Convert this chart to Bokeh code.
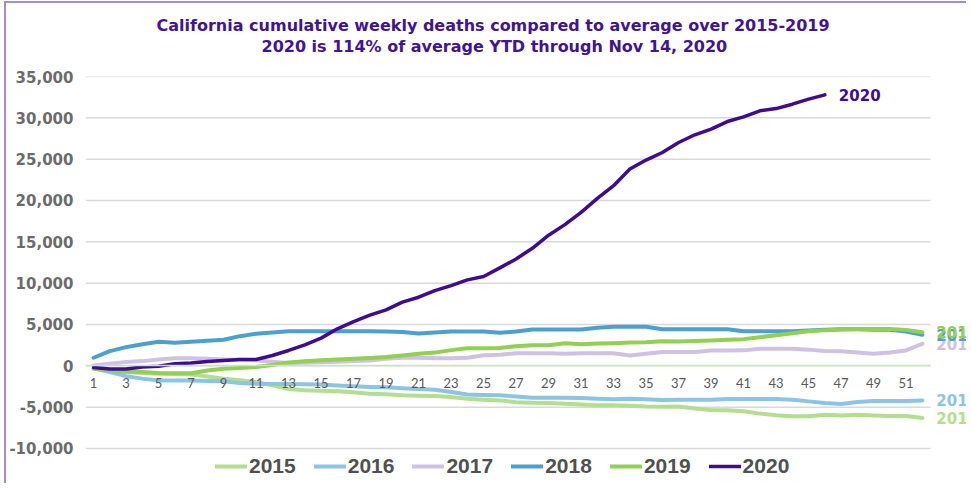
from bokeh.plotting import figure
from bokeh.models import (Range1d, FixedTicker, NumeralTickFormatter, Title, Legend,
                          LegendItem, ColumnDataSource, LabelSet)
from bokeh.core.properties import value
from bokeh.embed import file_html
from bokeh.resources import INLINE

# ---------------- data ----------------
weeks = list(range(1, 53))
weeks_2020 = list(range(1, 47))

d2015 = [-300, -550, -750, -880, -960, -980, -1040, -1300, -1550, -1750, -1970, -2350, -2800,
         -2950, -3000, -3080, -3200, -3380, -3450, -3570, -3630, -3650, -3780, -3970, -4100, -4180,
         -4400, -4480, -4500, -4580, -4680, -4760, -4780, -4820, -4920, -4960, -4920, -5150, -5350,
         -5380, -5500, -5780, -5980, -6100, -6100, -5920, -6000, -5920, -6000, -6070, -6080, -6300]
d2016 = [-300, -760, -1250, -1550, -1760, -1760, -1760, -1820, -1880, -2080, -2170, -2200, -2200,
         -2220, -2250, -2370, -2480, -2560, -2600, -2700, -2800, -2900, -3170, -3480, -3530, -3570,
         -3700, -3850, -3850, -3860, -3890, -3970, -4050, -3970, -4050, -4140, -4100, -4100, -4100,
         -4020, -4010, -4010, -4020, -4100, -4300, -4500, -4620, -4380, -4260, -4250, -4250, -4180]
d2017 = [50, 250, 450, 570, 770, 930, 930, 850, 770, 730, 680, 480, 350,
         380, 420, 480, 570, 650, 850, 970, 970, 930, 930, 970, 1290, 1330,
         1530, 1530, 1530, 1450, 1530, 1530, 1530, 1260, 1450, 1660, 1660, 1680, 1860,
         1860, 1870, 2060, 2060, 2060, 1960, 1800, 1760, 1600, 1450, 1600, 1860, 2670]
d2018 = [980, 1780, 2260, 2620, 2910, 2790, 2910, 3030, 3150, 3590, 3880, 4030, 4190,
         4190, 4190, 4190, 4190, 4190, 4150, 4100, 3910, 4030, 4150, 4150, 4150, 4000,
         4150, 4400, 4400, 4400, 4400, 4600, 4720, 4720, 4720, 4430, 4430, 4430, 4430,
         4430, 4190, 4190, 4190, 4190, 4270, 4350, 4430, 4430, 4350, 4350, 4150, 3750]
d2019 = [-350, -560, -680, -760, -880, -900, -900, -560, -350, -270, -150, 100, 400,
         560, 680, 780, 850, 950, 1080, 1260, 1460, 1600, 1900, 2140, 2140, 2160,
         2380, 2500, 2500, 2740, 2620, 2700, 2740, 2820, 2860, 2980, 2950, 3000, 3070,
         3150, 3230, 3470, 3710, 3950, 4190, 4310, 4390, 4470, 4470, 4470, 4350, 4070]
d2020 = [-200, -380, -380, -150, -50, 250, 330, 530, 650, 770, 770, 1250, 1860,
         2540, 3350, 4480, 5350, 6130, 6770, 7700, 8300, 9100, 9710, 10400, 10800, 11850,
         12930, 14220, 15800, 17080, 18570, 20260, 21790, 23800, 24890, 25810, 27020, 27950, 28630,
         29550, 30120, 30850, 31120, 31650, 32260, 32780]

series_names = ["2015", "2016", "2017", "2018", "2019", "2020"]
series_values = [d2015, d2016, d2017, d2018, d2019, d2020]
series_weeks = [weeks, weeks, weeks, weeks, weeks, weeks_2020]
series_colors = ["#b3de8f", "#8ec4e3", "#cfc1e4", "#4ca0d0", "#92cf52", "#3d0c91"]
series_widths = [4, 4, 4, 4, 4, 3.5]

x_tick_weeks = [1, 3, 5, 7, 9, 11, 13, 15, 17, 19, 21, 23, 25, 27, 29, 31, 33, 35, 37, 39,
                41, 43, 45, 47, 49, 51]
y_ticks = [-10000, -5000, 0, 5000, 10000, 15000, 20000, 25000, 30000, 35000]

title_line1 = "California  cumulative weekly deaths compared to average over 2015-2019"
title_line2 = "2020 is 114% of average YTD through Nov 14, 2020"

# category span of the plot area (weeks 1..52 centred in slots)
X_START, X_END = 0.5, 52.5

# ---------------- figure ----------------
# the frame runs to the right/bottom edges so that end labels and legend are not clipped
p = figure(width=962, height=482, output_backend="svg", toolbar_location=None,
           x_range=Range1d(X_START, 54.84), y_range=Range1d(-14476, 35000),
           min_border_left=78, min_border_right=0, min_border_top=73, min_border_bottom=0,
           styles={"border-left": "2px solid #a58bd3", "border-top": "2px solid #a58bd3",
                   "margin-left": "4px", "margin-top": "1px"})
p.outline_line_color = None
p.background_fill_color = "white"
p.border_fill_color = "white"

TITLE_COLOR = "#3f1593"
# spacer between plot area and the two title lines
p.add_layout(Title(text=" ", text_font="DejaVu Sans", text_font_size="16px", standoff=0), "above")
p.add_layout(Title(text=title_line2, align="left", offset=176, text_font="DejaVu Sans",
                   text_font_size="16px", text_font_style="bold", text_color=TITLE_COLOR,
                   standoff=0), "above")
p.add_layout(Title(text=title_line1, align="left", offset=71, text_font="DejaVu Sans",
                   text_font_size="16px", text_font_style="bold", text_color=TITLE_COLOR,
                   standoff=0), "above")

# horizontal gridlines limited to the category span
p.xgrid.visible = False
p.ygrid.visible = False
p.segment(x0=[X_START] * len(y_ticks), x1=[X_END] * len(y_ticks), y0=y_ticks, y1=y_ticks,
          line_color="#d9d9d9", line_width=1.5)

# y axis
p.yaxis.ticker = FixedTicker(ticks=y_ticks)
p.yaxis.formatter = NumeralTickFormatter(format="0,0")
p.yaxis.axis_line_color = None
p.yaxis.major_tick_line_color = None
p.yaxis.minor_tick_line_color = None
p.yaxis.major_tick_out = 0
p.yaxis.major_tick_in = 0
p.yaxis.minor_tick_out = 0
p.yaxis.minor_tick_in = 0
p.yaxis.major_label_standoff = 12
p.yaxis.major_label_text_font = "DejaVu Sans"
p.yaxis.major_label_text_font_style = "bold"
p.yaxis.major_label_text_font_size = "15px"
p.yaxis.major_label_text_color = "#6b6b6b"

# x axis crossing at zero
p.xaxis.fixed_location = 0
p.xaxis.bounds = (X_START, X_END)
p.xaxis.ticker = FixedTicker(ticks=x_tick_weeks)
p.xaxis.axis_line_color = "#cde4bb"
p.xaxis.axis_line_width = 1.5
p.xaxis.major_tick_line_color = None
p.xaxis.minor_tick_line_color = None
p.xaxis.major_label_standoff = 6
p.xaxis.major_label_text_font = "Lato"
p.xaxis.major_label_text_font_size = "13px"
p.xaxis.major_label_text_color = "#595959"

items = []
for name, xs, ys, c, w in zip(series_names, series_weeks, series_values, series_colors, series_widths):
    r = p.line(xs, ys, line_color=c, line_width=w, line_join="round", line_cap="round")
    items.append(LegendItem(label=name, renderers=[r]))

legend = Legend(items=items, orientation="horizontal", location=(130, 7),
                glyph_width=32, glyph_height=20, label_standoff=2, spacing=18,
                padding=0, margin=0, border_line_color=None, background_fill_alpha=0,
                label_text_font="Liberation Sans", label_text_font_style="bold",
                label_text_font_size="21px", label_text_color="#505050")
p.add_layout(legend, "center")

# end labels
end_src = ColumnDataSource(dict(
    x=[xs[-1] for xs in series_weeks],
    y=[ys[-1] for ys in series_values],
    text=series_names,
    color=series_colors,
))
p.add_layout(LabelSet(x="x", y="y", text="text", source=end_src, text_color="color",
                      x_offset=14, text_baseline="middle", text_font=value("DejaVu Sans"),
                      text_font_style="bold", text_font_size="15px"))

open("out.html", "w").write(file_html(p, INLINE))
